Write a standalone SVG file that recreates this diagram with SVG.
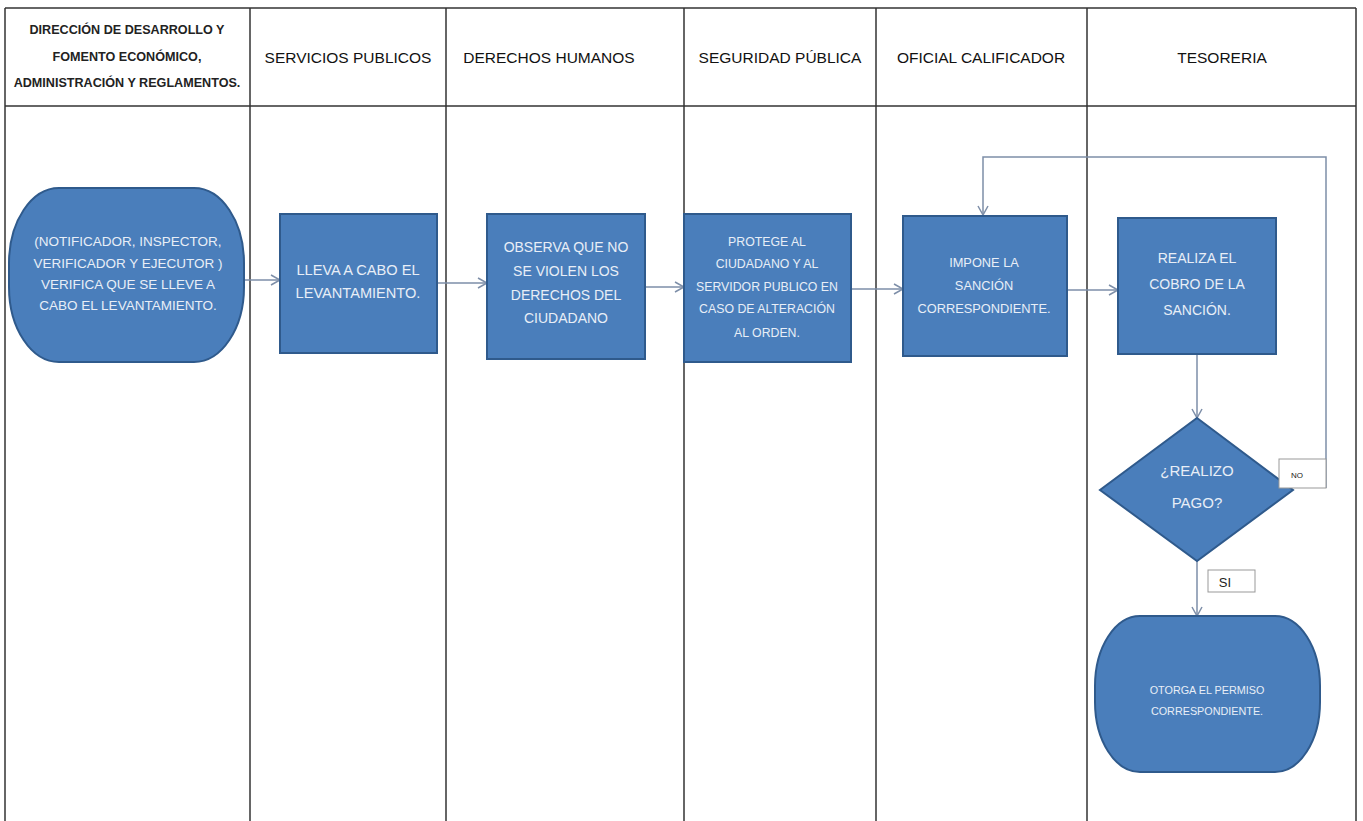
<svg xmlns="http://www.w3.org/2000/svg" width="1363" height="821" viewBox="0 0 1363 821">
<style>
.grid{stroke:#333;stroke-width:1.5;fill:none}
.hdr{font-family:"Liberation Sans",Arial,sans-serif;font-size:15.5px;fill:#111;text-anchor:middle}
.hdr1{font-family:"Liberation Sans",Arial,sans-serif;font-size:12.6px;font-weight:bold;fill:#222;text-anchor:middle}
.node{fill:#4a7ebb;stroke:#2f5a8c;stroke-width:2}
.t{font-family:"Liberation Sans",Arial,sans-serif;fill:#e8eef7;text-anchor:middle}
.conn{stroke:#7d8ea8;stroke-width:1.5;fill:none}
.lbl{fill:#fff;stroke:#999;stroke-width:1}
.lt{font-family:"Liberation Sans",Arial,sans-serif;fill:#222;text-anchor:middle}
</style>
<defs>
<marker id="arr" markerWidth="12" markerHeight="12" refX="10" refY="6" orient="auto" markerUnits="userSpaceOnUse">
<path d="M1,1 L10,6 L1,11" fill="none" stroke="#7d8ea8" stroke-width="1.5"/>
</marker>
</defs>
<rect width="1363" height="821" fill="#fff"/>
<g id="table">
<line class="grid" x1="5" y1="8" x2="1356" y2="8"/>
<line class="grid" x1="5" y1="106" x2="1356" y2="106" stroke-width="2"/>
<line class="grid" x1="5" y1="8" x2="5" y2="821"/>
<line class="grid" x1="250" y1="8" x2="250" y2="821" stroke-width="2"/>
<line class="grid" x1="446" y1="8" x2="446" y2="821"/>
<line class="grid" x1="684" y1="8" x2="684" y2="821"/>
<line class="grid" x1="876" y1="8" x2="876" y2="821"/>
<line class="grid" x1="1087" y1="8" x2="1087" y2="821"/>
<line class="grid" x1="1356" y1="8" x2="1356" y2="821" stroke-width="3"/>
<text class="hdr1" x="127" y="34">DIRECCIÓN DE DESARROLLO Y</text>
<text class="hdr1" x="127" y="61">FOMENTO ECONÓMICO,</text>
<text class="hdr1" x="127" y="87">ADMINISTRACIÓN Y REGLAMENTOS.</text>
<text class="hdr" x="348" y="63">SERVICIOS PUBLICOS</text>
<text class="hdr" x="549" y="63">DERECHOS HUMANOS</text>
<text class="hdr" x="780" y="63">SEGURIDAD PÚBLICA</text>
<text class="hdr" x="981" y="63">OFICIAL CALIFICADOR</text>
<text class="hdr" x="1222" y="63">TESORERIA</text>
</g>
<g id="connectors">
<line class="conn" x1="244" y1="280" x2="280" y2="280" marker-end="url(#arr)"/>
<line class="conn" x1="437" y1="283" x2="487" y2="283" marker-end="url(#arr)"/>
<line class="conn" x1="645" y1="287" x2="684" y2="287" marker-end="url(#arr)"/>
<line class="conn" x1="851" y1="289" x2="903" y2="289" marker-end="url(#arr)"/>
<line class="conn" x1="1067" y1="290" x2="1118" y2="290" marker-end="url(#arr)"/>
<line class="conn" x1="1197" y1="354" x2="1197" y2="418" marker-end="url(#arr)"/>
<line class="conn" x1="1197" y1="561" x2="1197" y2="616" marker-end="url(#arr)"/>
<polyline class="conn" points="1326,488 1326,157 983,157 983,215" marker-end="url(#arr)"/>
</g>
<g id="n1">
<rect class="node" x="9" y="188" width="235" height="174" rx="50" ry="75"/>
<text class="t" x="128" y="246" style="font-size:13.5px">(NOTIFICADOR, INSPECTOR,</text>
<text class="t" x="128" y="268" style="font-size:13.5px">VERIFICADOR Y EJECUTOR )</text>
<text class="t" x="128" y="289" style="font-size:13.5px">VERIFICA QUE  SE LLEVE  A</text>
<text class="t" x="128" y="310" style="font-size:13.5px">CABO EL LEVANTAMIENTO.</text>
</g>
<g id="n2">
<rect class="node" x="280" y="214" width="157" height="139"/>
<text class="t" x="358" y="275" style="font-size:14.6px">LLEVA A CABO EL</text>
<text class="t" x="358" y="298" style="font-size:14.6px">LEVANTAMIENTO.</text>
</g>
<g id="n3">
<rect class="node" x="487" y="214" width="158" height="145"/>
<text class="t" x="566" y="252" style="font-size:14px">OBSERVA QUE NO</text>
<text class="t" x="566" y="276" style="font-size:14px">SE VIOLEN LOS</text>
<text class="t" x="566" y="300" style="font-size:14px">DERECHOS  DEL</text>
<text class="t" x="566" y="323" style="font-size:14px">CIUDADANO</text>
</g>
<g id="n4">
<rect class="node" x="684" y="214" width="167" height="148"/>
<text class="t" x="767" y="246" style="font-size:12.3px">PROTEGE AL</text>
<text class="t" x="767" y="268" style="font-size:12.3px">CIUDADANO Y AL</text>
<text class="t" x="767" y="291" style="font-size:12.3px">SERVIDOR PUBLICO EN</text>
<text class="t" x="767" y="313" style="font-size:12.3px">CASO DE ALTERACIÓN</text>
<text class="t" x="767" y="337" style="font-size:12.3px">AL ORDEN.</text>
</g>
<g id="n5">
<rect class="node" x="903" y="216" width="164" height="140"/>
<text class="t" x="984" y="267" style="font-size:12.8px">IMPONE LA</text>
<text class="t" x="984" y="290" style="font-size:12.8px">SANCIÓN</text>
<text class="t" x="984" y="313" style="font-size:12.8px">CORRESPONDIENTE.</text>
</g>
<g id="n6">
<rect class="node" x="1118" y="218" width="158" height="136"/>
<text class="t" x="1197" y="263" style="font-size:14px">REALIZA EL</text>
<text class="t" x="1197" y="289" style="font-size:14px">COBRO DE LA</text>
<text class="t" x="1197" y="315" style="font-size:14px">SANCIÓN.</text>
</g>
<g id="n7">
<polygon class="node" points="1197,418 1293,490 1197,561 1100,490"/>
<text class="t" x="1197" y="476" style="font-size:15px">¿REALIZO</text>
<text class="t" x="1197" y="508" style="font-size:15px">PAGO?</text>
</g>
<g id="lblNo">
<rect class="lbl" x="1279" y="459" width="47" height="29"/>
<text class="lt" x="1297" y="478" style="font-size:8px">NO</text>
</g>
<g id="lblSi">
<rect class="lbl" x="1208" y="570" width="47" height="22"/>
<text class="lt" x="1225" y="587" style="font-size:13px">SI</text>
</g>
<g id="n8">
<rect class="node" x="1095" y="616" width="225" height="156" rx="45" ry="70"/>
<text class="t" x="1207" y="694" style="font-size:10.8px">OTORGA EL PERMISO</text>
<text class="t" x="1207" y="715" style="font-size:10.8px">CORRESPONDIENTE.</text>
</g>
</svg>
